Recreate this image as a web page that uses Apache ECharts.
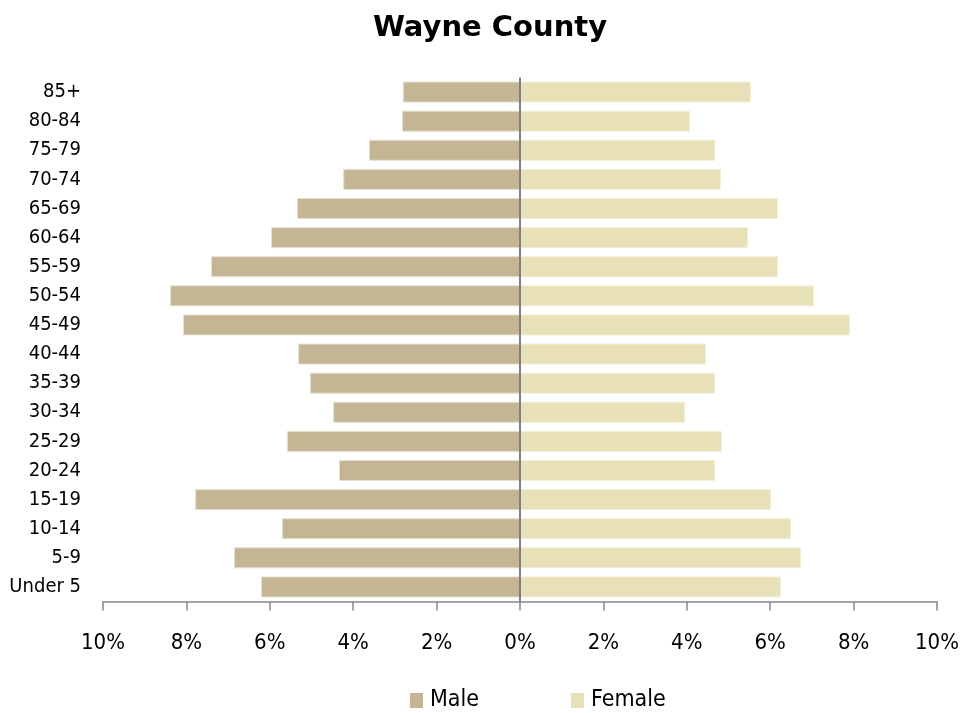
<!DOCTYPE html>
<html>
<head>
<meta charset="utf-8">
<script src="https://cdn.jsdelivr.net/npm/echarts@6/dist/echarts.min.js"></script>
<style>html,body{margin:0;padding:0;background:#fff}#c{width:979px;height:713px}</style>
</head>
<body>
<div id="c"></div>
<script>
const categories = ['Under 5','5-9','10-14','15-19','20-24','25-29','30-34','35-39','40-44','45-49','50-54','55-59','60-64','65-69','70-74','75-79','80-84','85+'];
const maleValues = [6.21,6.86,5.71,7.79,4.34,5.59,4.48,5.04,5.32,8.08,8.39,7.41,5.97,5.35,4.24,3.62,2.83,2.81];
const femaleValues = [6.26,6.74,6.50,6.02,4.68,4.84,3.96,4.68,4.46,7.91,7.05,6.19,5.47,6.19,4.82,4.68,4.08,5.54];
const xTicks = [-10,-8,-6,-4,-2,0,2,4,6,8,10];

const FONT = "'Liberation Sans Narrow','DejaVu Sans Condensed',sans-serif";
const chart = echarts.init(document.getElementById('c'), null, {renderer:'canvas'});
chart.setOption({
  animation:false,
  title:{text:'Wayne County',left:485,textAlign:'center',top:9,textStyle:{fontFamily:"'DejaVu Sans',sans-serif",fontWeight:'bold',fontSize:29,color:'#000'}},
  legend:{top:684,left:405,itemWidth:13,itemHeight:15,itemGap:92,icon:'rect',
    itemStyle:{borderWidth:0},
    textStyle:{fontFamily:FONT,fontSize:23,color:'#000',padding:[0,0,0,2]},
    data:['Male','Female']},
  grid:{left:103,right:42,top:77.5,bottom:111.5,containLabel:false},
  xAxis:{type:'value',min:xTicks[0],max:xTicks[xTicks.length-1],interval:2,
    axisLine:{show:true,lineStyle:{color:'#868686',width:1.5}},
    axisTick:{show:true,length:9,lineStyle:{color:'#868686',width:1.5}},
    splitLine:{show:false},
    axisLabel:{margin:31,fontFamily:FONT,fontSize:22,color:'#000',formatter:v=>Math.abs(v)+'%'}},
  yAxis:{type:'category',data:categories,
    axisLine:{show:false,onZero:false},axisTick:{show:false},
    axisLabel:{margin:22,fontFamily:FONT,fontSize:20,color:'#000'}},
  series:[
    {name:'Male',type:'bar',data:maleValues.map(v=>-v),barWidth:21,barGap:'-100%',
      itemStyle:{color:'#C4B594',borderColor:'#E6DFCF',borderWidth:1},
      markLine:{silent:true,symbol:'none',label:{show:false},lineStyle:{color:'#808080',width:2,type:'solid'},data:[{xAxis:0}]}},
    {name:'Female',type:'bar',data:femaleValues,barWidth:21,barGap:'-100%',
      itemStyle:{color:'#E8E1B8',borderColor:'#F3EFD9',borderWidth:1}}
  ]
});
</script>
</body>
</html>
